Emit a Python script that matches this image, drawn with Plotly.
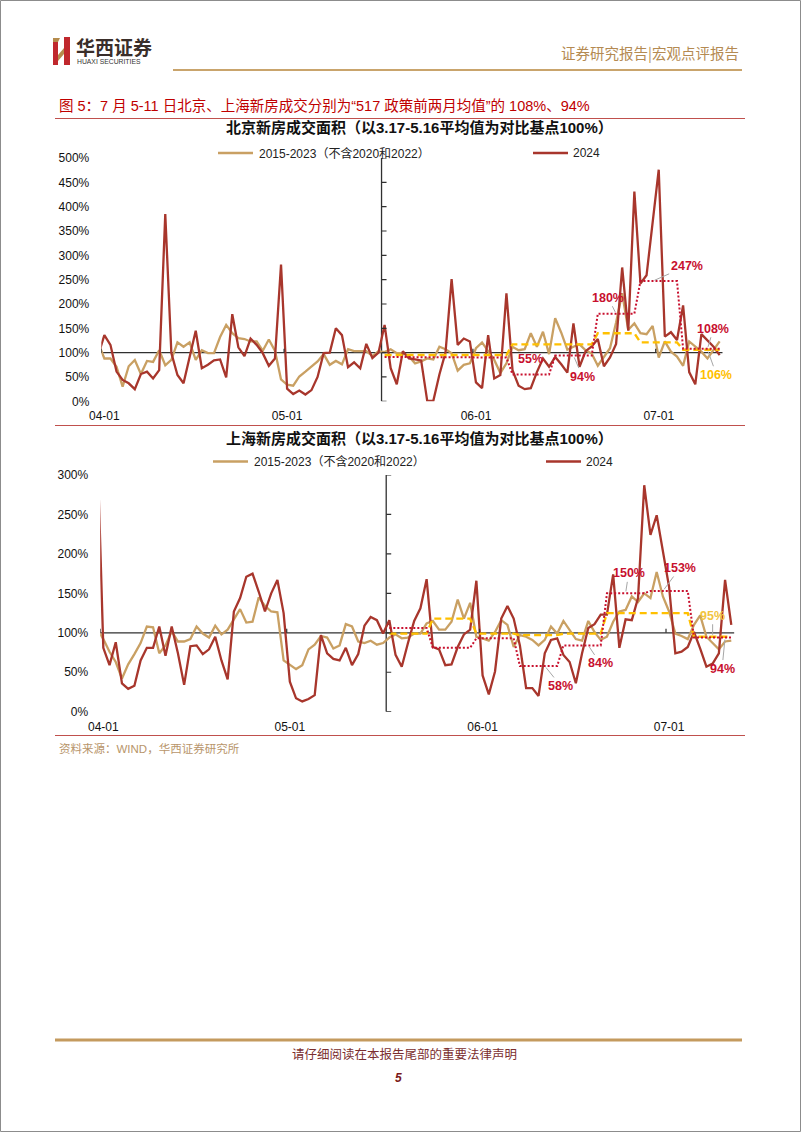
import pandas as pd
import plotly.graph_objects as go

W, H = 802, 1133

# ---------------- data ----------------
dates = pd.date_range("2024-03-31", "2024-07-11", freq="D")   # daily, 03-31 .. 07-11

month_ticks = ["2024-04-01", "2024-05-01", "2024-06-01", "2024-07-01"]
month_labels = ["04-01", "05-01", "06-01", "07-01"]
month_bounds = ["2024-03-31 12:00", "2024-04-30 12:00", "2024-05-31 12:00", "2024-06-30 12:00"]
policy_line = "2024-05-16 12:00"

bj_ticks = [0, 50, 100, 150, 200, 250, 300, 350, 400, 450, 500]
sh_ticks = [0, 50, 100, 150, 200, 250, 300]

# Beijing, % of 3.17-5.16 average
bj_hist = [120,
           88, 88, 71, 30, 72, 85, 56, 83, 81, 105,
           74, 85, 121, 112, 121, 85, 105, 99, 99, 132,
           157, 140, 130, 128, 123, 123, 104, 127, 104, 45,
           34, 32, 51, 61, 71,
           82, 97, 75, 83, 76, 107, 103, 103, 103, 93,
           103, 101, 107, 99, 99, 92, 78, 82, 88, 86,
           112, 107, 99, 63, 75, 78, 109, 121, 102, 85,
           58, 78,
           112, 105, 107, 140, 112, 143, 97,
           171, 141, 106, 112, 117, 105, 98,
           73, 92, 109, 162, 222, 147, 160,
           140, 138, 155, 90, 123, 102, 92,
           73, 123, 112, 102, 88, 105, 123]
bj_2024 = [95,
           136, 116, 61, 44, 37, 25, 56, 61, 47, 64,
           385, 99, 54, 37, 88, 145, 68, 75, 84, 86,
           49, 179, 111, 93, 129, 116, 99, 73, 88, 281,
           26, 15, 22, 14, 23,
           50, 99, 100, 150, 136, 70, 80, 68, 118, 89,
           100, 157, 68, 35, 103, 88, 86, 84, 1, 1,
           55, 100, 251, 116, 129, 123, 39, 27, 136, 47,
           54, 222,
           64, 32, 25, 27, 60, 88, 71,
           91, 76, 59, 160, 71, 103, 113,
           128, 72, 90, 118, 275, 145, 431,
           242, 259, 364, 476, 133, 142, 126,
           197, 60, 35, 138, 126, 112, 95]

# Shanghai, % of 3.17-5.16 average
sh_hist = [105,
           92, 76, 63, 42, 60, 73, 87, 108, 107, 74,
           84, 102, 89, 89, 92, 108, 99, 94, 109, 98,
           104, 117, 130, 113, 114, 145, 134, 127, 126, 65,
           59, 54, 59, 79,
           85, 96, 94, 80, 84, 111, 108, 89, 87, 90,
           85, 87, 94, 98, 93, 94, 99, 99, 112, 115,
           104, 104, 114, 142, 118, 138, 95, 93, 90, 101,
           116, 110, 82,
           97, 95, 91, 84, 91, 108, 99,
           115, 104, 92, 90, 115, 101, 91,
           95, 114, 127, 129, 146, 139, 150,
           144, 177, 146, 127, 99, 96, 92,
           110, 122, 95, 87, 79, 89, 90]
sh_2024 = [345,
           81, 59, 88, 36, 29, 33, 65, 81, 81, 108,
           71, 108, 74, 34, 83, 84, 73, 79, 95, 65,
           41, 127, 144, 171, 175, 152, 127, 150, 167, 125,
           38, 17, 13, 16,
           21, 97, 74, 67, 65, 81, 59, 73, 109, 120,
           116, 99, 116, 72, 57, 87, 115, 131, 168, 82,
           79, 59, 60, 82, 98, 104, 166, 46, 22, 51,
           118, 134, 118,
           84, 30, 30, 20, 74, 91, 93,
           72, 63, 36, 74, 106, 111, 123,
           123, 174, 81, 117, 116, 144, 287,
           224, 249, 205, 158, 74, 76, 82,
           101, 80, 57, 61, 74, 167, 110]

# weekly averages after the 5.17 policy (weeks start on these days)
week_starts = ["2024-05-17", "2024-05-24", "2024-05-31", "2024-06-07",
               "2024-06-14", "2024-06-21", "2024-06-28", "2024-07-05"]
bj_2024_week = [91, 90, 90, 55, 94, 180, 247, 108]
bj_hist_week = [95, 95, 95, 117, 117, 140, 121, 106]
sh_2024_week = [106, 81, 93, 58, 84, 150, 153, 94]
sh_hist_week = [99, 118, 99, 97, 99, 125, 125, 95]

legend_hist = "2015-2023（不含2020和2022）"
legend_2024 = "2024"

# ---------------- styles ----------------
C_TAN = "#C9A063"
C_RED = "#A8362C"
C_DOT = "#C8102E"
C_GOLD = "#FFC000"
C_LBL = "#C8102E"
C_AXIS = "#303030"
F_LAT = "Liberation Sans, Arial, Noto Sans CJK SC"
F_CJK = "Noto Sans CJK SC, Liberation Sans"


def weekly_series(starts, vals):
    xs, ys = [], []
    for s, v in zip(starts, vals):
        for k in range(7):
            xs.append(pd.Timestamp(s) + pd.Timedelta(days=k))
            ys.append(v)
    return xs, ys


def px(x):
    return x / W


def py(y):
    return 1 - y / H


fig = go.Figure()

panels = [
    dict(xa="x", ya="y", hist=bj_hist, cur=bj_2024, hw=bj_hist_week, cw=bj_2024_week, ymax=500),
    dict(xa="x2", ya="y2", hist=sh_hist, cur=sh_2024, hw=sh_hist_week, cw=sh_2024_week, ymax=300),
]

shapes = []
annotations = []

for p in panels:
    fig.add_trace(go.Scatter(x=dates, y=p["hist"], mode="lines", xaxis=p["xa"], yaxis=p["ya"],
                             line=dict(color=C_TAN, width=2.3), hoverinfo="skip"))
    fig.add_trace(go.Scatter(x=dates, y=p["cur"], mode="lines", xaxis=p["xa"], yaxis=p["ya"],
                             line=dict(color=C_RED, width=2.3), hoverinfo="skip"))
    hx, hy = weekly_series(week_starts, p["hw"])
    fig.add_trace(go.Scatter(x=hx, y=hy, mode="lines", xaxis=p["xa"], yaxis=p["ya"],
                             line=dict(color=C_GOLD, width=2.4, dash="7px,4px"), hoverinfo="skip"))
    cx, cy = weekly_series(week_starts, p["cw"])
    fig.add_trace(go.Scatter(x=cx, y=cy, mode="lines", xaxis=p["xa"], yaxis=p["ya"],
                             line=dict(color=C_DOT, width=2.0, dash="2px,2px"), hoverinfo="skip"))

    # 100% base line acting as the x axis
    shapes.append(dict(type="line", xref=p["xa"], yref=p["ya"], x0="2024-03-31 12:00",
                       x1="2024-07-11 12:00", y0=100, y1=100,
                       line=dict(color=C_AXIS, width=1.3), layer="below"))
    for b in month_bounds:
        shapes.append(dict(type="line", xref=p["xa"], yref=p["ya"], ysizemode="pixel",
                           yanchor=100, x0=b, x1=b, y0=0, y1=4,
                           line=dict(color=C_AXIS, width=1.2)))
    # vertical policy line with its ticks
    shapes.append(dict(type="line", xref=p["xa"], yref=p["ya"], x0=policy_line, x1=policy_line,
                       y0=0, y1=p["ymax"], line=dict(color=C_AXIS, width=1.3), layer="below"))
    for v in range(0, p["ymax"] + 1, 50):
        shapes.append(dict(type="line", xref=p["xa"], yref=p["ya"], xsizemode="pixel",
                           xanchor=policy_line, x0=0, x1=5, y0=v, y1=v,
                           line=dict(color=C_AXIS, width=1.2)))

common_x = dict(type="date", range=["2024-03-31 12:00", "2024-07-11 12:00"],
                tickvals=month_ticks, ticktext=month_labels, ticks="", showgrid=False,
                zeroline=False, showline=False, ticklabelstandoff=6, automargin=False,
                tickfont=dict(family=F_LAT, size=12, color="#111111"))
common_y = dict(showgrid=False, zeroline=False, showline=False, ticks="",
                ticklabelstandoff=11, automargin=False,
                tickfont=dict(family=F_LAT, size=12, color="#111111"))

fig.update_layout(
    xaxis=dict(common_x, domain=[px(101.3), px(722.7)], anchor="y"),
    yaxis=dict(common_y, domain=[py(401.3), py(158.0)], range=[0, 500],
               tickvals=bj_ticks, ticktext=[f"{v}%" for v in bj_ticks], anchor="x"),
    xaxis2=dict(common_x, domain=[px(100.2), px(734.4)], anchor="y2"),
    yaxis2=dict(common_y, domain=[py(711.7), py(475.0)], range=[0, 300],
                tickvals=sh_ticks, ticktext=[f"{v}%" for v in sh_ticks], anchor="x2"),
)

# ---------------- data labels ----------------
def week_day(i, k):
    return pd.Timestamp(week_starts[i]) + pd.Timedelta(days=k)

labels = [
    # axis, week idx, day in week, values, color, ax, ay, leader
    ("x", "y", 3, 3, bj_2024_week, C_LBL, 0, -16, False),
    ("x", "y", 4, 3, bj_2024_week, C_LBL, 9, 21, True),
    ("x", "y", 5, 3, bj_2024_week, C_LBL, -8, -16, True),
    ("x", "y", 6, 2, bj_2024_week, C_LBL, 34, -15, True),
    ("x", "y", 7, 4, bj_2024_week, C_LBL, 6, -20, True),
    ("x", "y", 7, 4, bj_hist_week, C_GOLD, 9, 25, True),
    ("x2", "y2", 3, 4, sh_2024_week, C_LBL, 16, 20, True),
    ("x2", "y2", 4, 4, sh_2024_week, C_LBL, 12, 18, True),
    ("x2", "y2", 5, 3, sh_2024_week, C_LBL, 3, -20, True),
    ("x2", "y2", 6, 2, sh_2024_week, C_LBL, 17, -23, True),
    ("x2", "y2", 7, 3, sh_hist_week, "#F2C440", 0, -21, True),
    ("x2", "y2", 7, 5, sh_2024_week, C_LBL, -3, 31, True),
]
for xa, ya, wi, k, vals, col, ax, ay, lead in labels:
    annotations.append(dict(
        xref=xa, yref=ya, x=week_day(wi, k), y=vals[wi], text=f"<b>{vals[wi]}%</b>",
        showarrow=True, arrowhead=0, arrowwidth=1,
        arrowcolor="#A6A6A6" if lead else "rgba(0,0,0,0)", ax=ax, ay=ay,
        standoff=2 if lead else 0,
        font=dict(family=F_LAT, size=12.5, color=col)))

# ---------------- legends ----------------
def legend(y, tan_x, red_x):
    shapes.append(dict(type="line", xref="paper", yref="paper", x0=px(tan_x), x1=px(tan_x + 35),
                       y0=py(y), y1=py(y), line=dict(color=C_TAN, width=2.5)))
    annotations.append(dict(xref="paper", yref="paper", x=px(tan_x + 39), y=py(y), xanchor="left",
                            yanchor="middle", showarrow=False, text=legend_hist,
                            font=dict(family=F_LAT, size=12, color="#222222")))
    shapes.append(dict(type="line", xref="paper", yref="paper", x0=px(red_x), x1=px(red_x + 35),
                       y0=py(y), y1=py(y), line=dict(color=C_RED, width=2.5)))
    annotations.append(dict(xref="paper", yref="paper", x=px(red_x + 38), y=py(y), xanchor="left",
                            yanchor="middle", showarrow=False, text=legend_2024,
                            font=dict(family=F_LAT, size=12, color="#222222")))

legend(153, 218, 533)
legend(461.5, 213, 546)

# ---------------- page furniture ----------------
def text(x, y, s, size, color, anchor="left", family=F_CJK):
    annotations.append(dict(xref="paper", yref="paper", x=px(x), y=py(y), xanchor=anchor,
                            yanchor="middle", showarrow=False, text=s,
                            font=dict(family=family, size=size, color=color)))

def hline(x0, x1, y, color, width):
    shapes.append(dict(type="line", xref="paper", yref="paper", x0=px(x0), x1=px(x1),
                       y0=py(y), y1=py(y), line=dict(color=color, width=width)))

# page border
shapes.append(dict(type="rect", xref="paper", yref="paper", x0=px(0.5), x1=px(800.5),
                   y0=py(1131.5), y1=py(0.5), line=dict(color="#8C8C8C", width=1)))

# logo
shapes.append(dict(type="path", xref="paper", yref="paper",
                   path=f"M {px(53)},{py(42)} L {px(58)},{py(42)} L {px(58)},{py(65)} L {px(53)},{py(65)} Z",
                   fillcolor="#C0282D", line=dict(width=0)))
shapes.append(dict(type="path", xref="paper", yref="paper",
                   path=f"M {px(64)},{py(37)} L {px(70)},{py(37)} L {px(70)},{py(65)} L {px(64)},{py(65)} Z",
                   fillcolor="#C0282D", line=dict(width=0)))
shapes.append(dict(type="path", xref="paper", yref="paper",
                   path=f"M {px(58)},{py(55)} L {px(64)},{py(48)} L {px(64)},{py(54)} L {px(58)},{py(61)} Z",
                   fillcolor="#B58B4C", line=dict(width=0)))
shapes.append(dict(type="path", xref="paper", yref="paper",
                   path=f"M {px(53)},{py(38)} L {px(60)},{py(38)} L {px(58)},{py(42)} L {px(53)},{py(42)} Z",
                   fillcolor="#B58B4C", line=dict(width=0)))
text(74, 47, "<b>华西证券</b>", 19, "#3A2E2A")
text(75, 61, "HUAXI SECURITIES", 6.8, "#333333", family=F_LAT)
text(741, 52, "证券研究报告|宏观点评报告", 14.5, "#B48A52", anchor="right")
hline(173, 742, 70, "#C9A46C", 2)

# caption
text(57, 105, "图 5：7 月 5-11 日北京、上海新房成交分别为“517 政策前两月均值”的 108%、94%",
     14.5, "#C00000", family=F_LAT)
hline(55, 745, 118.5, "#C0504D", 1)

# chart titles
text(419, 128, "<b>北京新房成交面积（以3.17-5.16平均值为对比基点100%）</b>", 15, "#111111",
     anchor="center", family=F_LAT)
text(419, 438, "<b>上海新房成交面积（以3.17-5.16平均值为对比基点100%）</b>", 15, "#111111",
     anchor="center", family=F_LAT)
hline(55, 745, 425.5, "#C0504D", 1)
hline(55, 745, 735.5, "#C0504D", 1)

text(57, 748, "资料来源：WIND，华西证券研究所", 11.5, "#B8956A", family=F_LAT)

# footer
hline(55, 742, 1040, "#C49A5E", 3)
text(404, 1053, "请仔细阅读在本报告尾部的重要法律声明", 12.5, "#7B2E2E", anchor="center")
text(398, 1078, "<b><i>5</i></b>", 12, "#7B1A1A", anchor="center", family=F_LAT)

fig.update_layout(
    width=W, height=H, margin=dict(l=0, r=0, t=0, b=0, pad=0), autosize=False,
    paper_bgcolor="white", plot_bgcolor="rgba(0,0,0,0)", showlegend=False,
    shapes=shapes, annotations=annotations,
)

fig.write_html("out.html", config={"displayModeBar": False, "responsive": False},
               post_script="document.body.style.margin='0';document.body.style.padding='0';"
                           "document.documentElement.style.overflow='hidden';")
